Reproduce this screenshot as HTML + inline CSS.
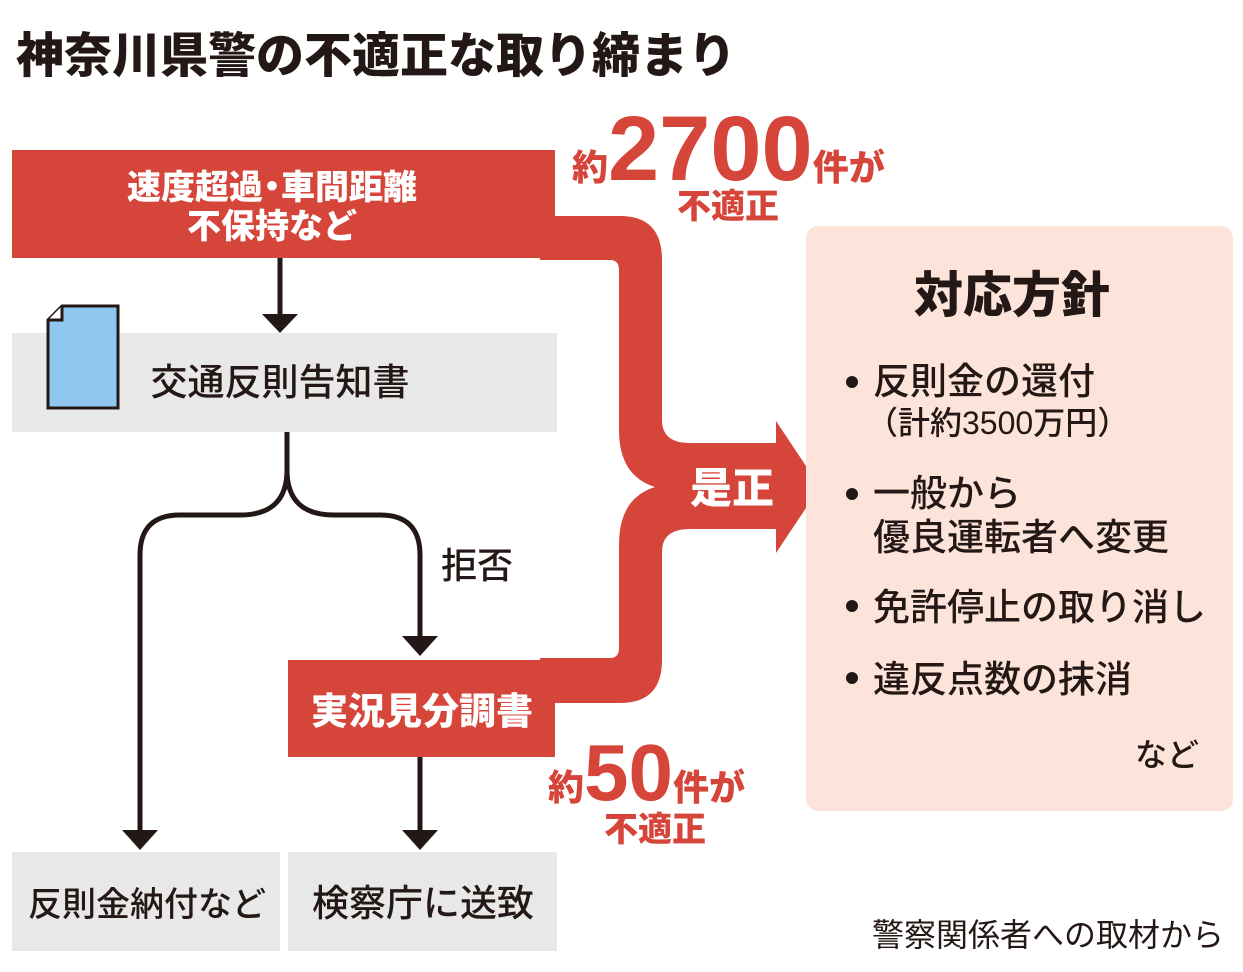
<!DOCTYPE html>
<html><head><meta charset="utf-8"><style>
body{margin:0;background:#fff;}
svg text{font-family:"Liberation Sans","Noto Sans CJK JP",sans-serif;}
</style></head><body>
<svg width="1243" height="967" viewBox="0 0 1243 967" xmlns="http://www.w3.org/2000/svg">
<text x="16" y="72" font-size="48" font-weight="900" fill="#231815">神奈川県警の不適正な取り締まり</text>

<g fill="#d6453a">
<rect x="12" y="150" width="543" height="108"/>
<path d="M540 216 H620 Q662 216 662 260 V420 Q662 443 690 443 H776 V421 L820 487 L776 553 V529 H690 Q662 529 662 552 V660 Q662 703 620 703 H540 V658 H610 Q619 658 619 648 V545 Q619 498 655 487 Q619 476 619 430 V270 Q619 260 610 260 H540 Z"/>
<rect x="288" y="660" width="267" height="97"/>
</g>
<text x="272" y="199" font-size="34" font-weight="900" fill="#fff" text-anchor="middle">速度超過<tspan dx="-8">・</tspan><tspan dx="-8">車間距離</tspan></text>
<text x="272" y="238" font-size="34" font-weight="900" fill="#fff" text-anchor="middle">不保持など</text>
<text x="732" y="503" font-size="42" font-weight="900" fill="#fff" text-anchor="middle">是正</text>
<text x="422" y="724" font-size="37" font-weight="900" fill="#fff" text-anchor="middle">実況見分調書</text>

<text x="572" y="180" font-size="36" font-weight="900" fill="#d6453a">約<tspan font-size="92">2700</tspan><tspan font-size="36">件が</tspan></text>
<text x="728" y="218" font-size="34" font-weight="900" fill="#d6453a" text-anchor="middle">不適正</text>
<text x="548" y="800" font-size="36" font-weight="900" fill="#d6453a">約<tspan font-size="80">50</tspan><tspan font-size="36">件が</tspan></text>
<text x="655" y="841" font-size="34" font-weight="900" fill="#d6453a" text-anchor="middle">不適正</text>

<rect x="12" y="333" width="545" height="99" fill="#e8e8e8"/>
<text x="280" y="395" font-size="37" font-weight="500" fill="#231815" text-anchor="middle">交通反則告知書</text>
<path d="M62 306 H118 V408 H48 V320 Z" fill="#8ec8ee" stroke="#231815" stroke-width="3"/>
<path d="M48 320 H62 V306" fill="#fff" stroke="#231815" stroke-width="3"/>
<rect x="12" y="852" width="268" height="99" fill="#e8e8e8"/>
<text x="147" y="916" font-size="34" font-weight="500" fill="#231815" text-anchor="middle">反則金納付など</text>
<rect x="288" y="852" width="269" height="99" fill="#e8e8e8"/>
<text x="423" y="916" font-size="37" font-weight="500" fill="#231815" text-anchor="middle">検察庁に送致</text>

<g stroke="#231815" stroke-width="5" fill="none">
<line x1="280" y1="258" x2="280" y2="318"/>
<path d="M287 432 V470 Q287 515 240 515 H180 Q140 515 140 555 V835"/>
<path d="M287 470 Q287 515 334 515 H380 Q420 515 420 555 V640"/>
<line x1="420" y1="757" x2="420" y2="835"/>
</g>
<g fill="#231815">
<path d="M262 314 H298 L280 333 Z"/>
<path d="M122 830 H158 L140 850 Z"/>
<path d="M402 636 H438 L420 656 Z"/>
<path d="M402 830 H438 L420 850 Z"/>
</g>
<text x="441" y="578" font-size="36" font-weight="500" fill="#231815">拒否</text>

<rect x="806" y="226" width="427" height="585" rx="12" fill="#fce4da"/>
<text x="1012" y="312" font-size="49" font-weight="900" fill="#231815" text-anchor="middle">対応方針</text>
<g font-size="37" font-weight="500" fill="#231815">
<circle cx="852" cy="382" r="6"/>
<text x="873" y="394">反則金の還付</text>
<text x="866" y="434" font-size="32">（計約3500万円）</text>
<circle cx="852" cy="494" r="6"/>
<text x="873" y="506">一般から</text>
<text x="873" y="550">優良運転者へ変更</text>
<circle cx="852" cy="606" r="6"/>
<text x="873" y="620">免許停止の取り消し</text>
<circle cx="852" cy="678" r="6"/>
<text x="873" y="692">違反点数の抹消</text>
<text x="1135" y="766" font-size="32">など</text>
</g>
<text x="1224" y="946" font-size="32" font-weight="400" fill="#231815" text-anchor="end">警察関係者への取材から</text>
</svg>
</body></html>
